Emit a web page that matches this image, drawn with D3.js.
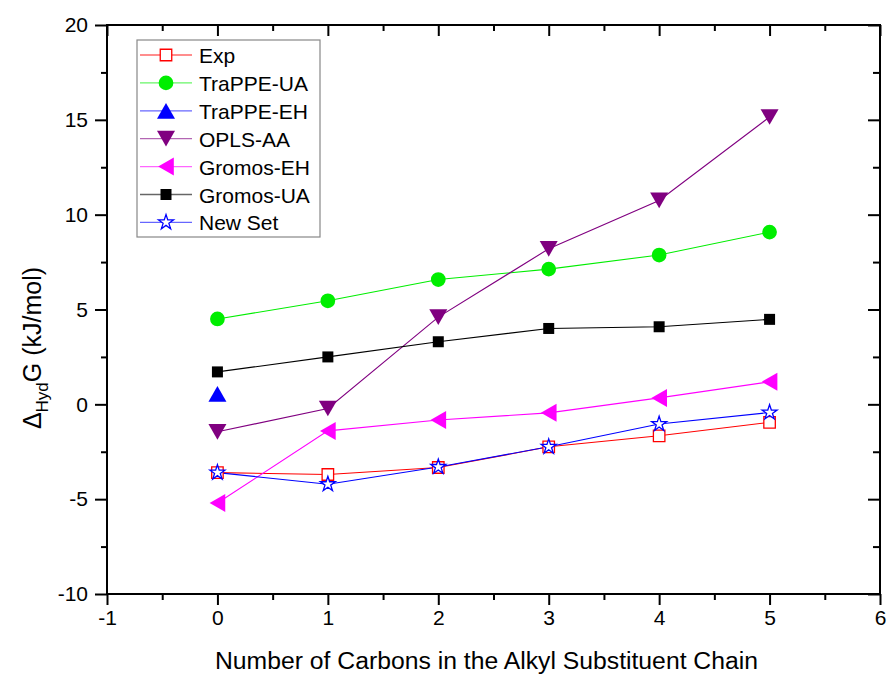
<!DOCTYPE html>
<html>
<head>
<meta charset="utf-8">
<script src="https://cdn.jsdelivr.net/npm/d3@7"></script>
<style>
  body { margin: 0; background: #fff; }
  text { font-family: "Liberation Sans", Arial, sans-serif; fill: #000; }
</style>
</head>
<body>
<div id="chart"></div>
<script>
var svgWidth = 890;
var svgHeight = 679;

// data
var carbons = [0, 1, 2, 3, 4, 5];
var seriesNames = ["Exp", "TraPPE-UA", "TraPPE-EH", "OPLS-AA", "Gromos-EH", "Gromos-UA", "New Set"];
var expValues = [-3.6, -3.7, -3.33, -2.24, -1.66, -0.95];
var trappeUA = [4.5, 5.46, 6.58, 7.13, 7.87, 9.08];
var trappeEH = [0.55];
var oplsAA = [-1.45, -0.22, 4.6, 8.2, 10.75, 15.15];
var gromosEH = [-5.2, -1.4, -0.83, -0.45, 0.34, 1.19];
var gromosUA = [1.71, 2.5, 3.3, 4.0, 4.09, 4.48];
var newSet = [-3.6, -4.21, -3.3, -2.24, -1.04, -0.43];
var xTicks = [-1, 0, 1, 2, 3, 4, 5, 6];
var yTicks = [-10, -5, 0, 5, 10, 15, 20];

var plot = { left: 107, right: 880, top: 25, bottom: 594 };

var svg = d3.select("#chart")
  .append("svg")
  .attr("width", svgWidth)
  .attr("height", svgHeight);

var xScale = d3.scaleLinear().domain([-1, 6]).range([plot.left, plot.right]);
var yScale = d3.scaleLinear().domain([-10, 20]).range([plot.bottom, plot.top]);

var xMinor = d3.range(-0.5, 6, 1);
var yMinor = d3.range(-7.5, 20, 5);

// plain hyphen for negatives, like the original
var plainFormat = function(d) { return String(d); };

// axes: bottom / left outward, top / right inward
function styleAxis(g, size) {
  g.select(".domain").remove();
  g.selectAll(".tick line").attr("stroke", "#000").attr("stroke-width", 2);
  g.selectAll("text").style("font-size", size + "px");
}

var xAxis = d3.axisBottom(xScale).tickValues(xTicks).tickSize(11).tickPadding(5).tickFormat(plainFormat);
svg.append("g").attr("transform", `translate(0, ${plot.bottom})`).call(xAxis).call(styleAxis, 21);
svg.append("g").attr("transform", `translate(0, ${plot.bottom})`)
  .call(d3.axisBottom(xScale).tickValues(xMinor).tickSize(6).tickFormat(""))
  .call(styleAxis, 0);

var yAxis = d3.axisLeft(yScale).tickValues(yTicks).tickSize(12).tickPadding(7).tickFormat(plainFormat);
svg.append("g").attr("transform", `translate(${plot.left}, 0)`).call(yAxis).call(styleAxis, 21);
svg.append("g").attr("transform", `translate(${plot.left}, 0)`)
  .call(d3.axisLeft(yScale).tickValues(yMinor).tickSize(6).tickFormat(""))
  .call(styleAxis, 0);

svg.append("g").attr("transform", `translate(0, ${plot.top})`)
  .call(d3.axisBottom(xScale).tickValues(xTicks).tickSize(11).tickFormat(""))
  .call(styleAxis, 0);
svg.append("g").attr("transform", `translate(0, ${plot.top})`)
  .call(d3.axisBottom(xScale).tickValues(xMinor).tickSize(6).tickFormat(""))
  .call(styleAxis, 0);
svg.append("g").attr("transform", `translate(${plot.right}, 0)`)
  .call(d3.axisLeft(yScale).tickValues(yTicks).tickSize(12).tickFormat(""))
  .call(styleAxis, 0);
svg.append("g").attr("transform", `translate(${plot.right}, 0)`)
  .call(d3.axisLeft(yScale).tickValues(yMinor).tickSize(7).tickFormat(""))
  .call(styleAxis, 0);

// frame
svg.append("rect")
  .attr("x", plot.left).attr("y", plot.top)
  .attr("width", plot.right - plot.left).attr("height", plot.bottom - plot.top)
  .attr("fill", "none").attr("stroke", "#000").attr("stroke-width", 2);

// axis titles
svg.append("text")
  .attr("x", (plot.left + plot.right) / 2 - 7)
  .attr("y", 669)
  .attr("text-anchor", "middle")
  .attr("textLength", 543)
  .attr("lengthAdjust", "spacingAndGlyphs")
  .style("font-size", "23px")
  .text("Number of Carbons in the Alkyl Substituent Chain");

var yTitle = svg.append("text")
  .attr("transform", "translate(41, 348) rotate(-90)")
  .attr("text-anchor", "middle")
  .style("font-size", "25px");
yTitle.append("tspan").text("\u0394");
yTitle.append("tspan").attr("dy", 7).style("font-size", "17px").text("Hyd");
yTitle.append("tspan").attr("dy", -7).text("G (kJ/mol)");

// marker shapes (centered on the bounding box)
function triPath(dir, s) {
  var h = s * 0.87 / 2, w = s / 2;
  if (dir === "up") return `M0,${-h}L${w},${h}L${-w},${h}Z`;
  if (dir === "down") return `M0,${h}L${w},${-h}L${-w},${-h}Z`;
  return `M${-h},0L${h},${-w}L${h},${w}Z`;
}

var series = [
  { name: seriesNames[0], values: expValues, color: "#ff0000", marker: d3.symbol(d3.symbolSquare, 132)(), fill: "#fff" },
  { name: seriesNames[1], values: trappeUA, color: "#00ee00", marker: d3.symbol(d3.symbolCircle, 170)(), fill: "#00ee00" },
  { name: seriesNames[2], values: trappeEH, color: "#0000ff", marker: triPath("up", 18), fill: "#0000ff" },
  { name: seriesNames[3], values: oplsAA, color: "#800080", marker: triPath("down", 18), fill: "#800080" },
  { name: seriesNames[4], values: gromosEH, color: "#ff00ff", marker: triPath("left", 18), fill: "#ff00ff" },
  { name: seriesNames[5], values: gromosUA, color: "#000000", marker: d3.symbol(d3.symbolSquare, 121)(), fill: "#000" },
  { name: seriesNames[6], values: newSet, color: "#0000ff", marker: d3.symbol(d3.symbolStar, 70)(), fill: "#fff" }
];

var line = d3.line()
  .x(function(d, i) { return xScale(carbons[i]); })
  .y(function(d) { return yScale(d); });

series.forEach(function(s) {
  if (s.values.length > 1) {
    svg.append("path")
      .attr("d", line(s.values))
      .attr("fill", "none")
      .attr("stroke", s.color)
      .attr("stroke-width", 1.1);
  }
});

series.forEach(function(s) {
  svg.selectAll(null)
    .data(s.values).enter()
    .append("path")
    .attr("d", s.marker)
    .attr("transform", function(d, i) { return `translate(${xScale(carbons[i])}, ${yScale(d)})`; })
    .attr("fill", s.fill)
    .attr("stroke", s.color)
    .attr("stroke-width", s.fill === "#fff" ? 1.3 : 0);
});

// legend
var legend = svg.append("g").attr("transform", "translate(137, 40)");
legend.append("rect")
  .attr("width", 183).attr("height", 197)
  .attr("fill", "#fff").attr("stroke", "#888").attr("stroke-width", 1.2);

var entry = legend.selectAll(".entry")
  .data(series).enter().append("g")
  .attr("class", "entry")
  .attr("transform", function(d, i) { return `translate(0, ${15 + i * 27.9})`; });

entry.append("line")
  .attr("x1", 3).attr("x2", 55)
  .attr("stroke", function(d) { return d.color; })
  .attr("stroke-opacity", 0.6)
  .attr("stroke-width", 1.3);
entry.append("path")
  .attr("d", function(d) { return d.marker; })
  .attr("transform", "translate(29, 0)")
  .attr("fill", function(d) { return d.fill; })
  .attr("stroke", function(d) { return d.color; })
  .attr("stroke-width", function(d) { return d.fill === "#fff" ? 1.3 : 0; });
entry.append("text")
  .attr("x", 62).attr("y", 8)
  .style("font-size", "21px")
  .text(function(d) { return d.name; });
</script>
</body>
</html>
